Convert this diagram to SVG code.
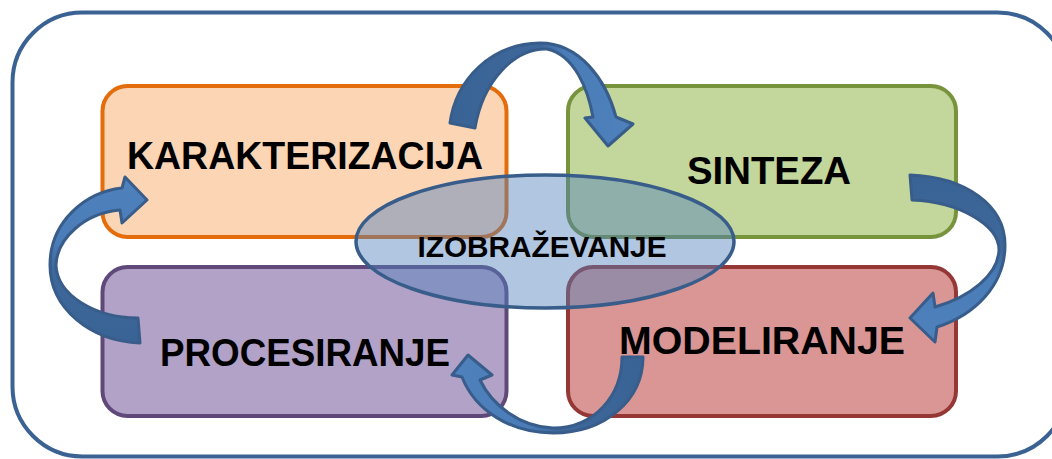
<svg xmlns="http://www.w3.org/2000/svg" width="1052" height="459" viewBox="0 0 1052 459">
<style>
.lbl{font-family:"Liberation Sans",Arial,sans-serif;font-weight:bold;fill:#000;text-anchor:middle}
.arrow{stroke:#385D8A;stroke-width:3;stroke-linejoin:round}
</style>
<defs>
<linearGradient id="gTop" gradientUnits="userSpaceOnUse" x1="450" y1="0" x2="640" y2="0">
<stop offset="0" stop-color="#3A6395"/><stop offset="0.48" stop-color="#3E689B"/><stop offset="0.6" stop-color="#4A7CB8"/><stop offset="1" stop-color="#4F81BD"/>
</linearGradient>
<linearGradient id="gRight" gradientUnits="userSpaceOnUse" x1="0" y1="175" x2="0" y2="345">
<stop offset="0" stop-color="#3A6395"/><stop offset="0.45" stop-color="#3E689B"/><stop offset="0.6" stop-color="#4A7CB8"/><stop offset="1" stop-color="#4F81BD"/>
</linearGradient>
<linearGradient id="gBottom" gradientUnits="userSpaceOnUse" x1="645" y1="0" x2="450" y2="0">
<stop offset="0" stop-color="#3A6395"/><stop offset="0.45" stop-color="#3E689B"/><stop offset="0.6" stop-color="#4A7CB8"/><stop offset="1" stop-color="#4F81BD"/>
</linearGradient>
<linearGradient id="gLeft" gradientUnits="userSpaceOnUse" x1="0" y1="345" x2="0" y2="175">
<stop offset="0" stop-color="#3A6395"/><stop offset="0.45" stop-color="#3E689B"/><stop offset="0.6" stop-color="#4A7CB8"/><stop offset="1" stop-color="#4F81BD"/>
</linearGradient>
</defs>
<rect width="1052" height="459" fill="#FFFFFF"/>
<g id="frame">
<rect x="12.5" y="12.5" width="1055" height="444" rx="70" ry="70" fill="none" stroke="#3A6293" stroke-width="4"/>
</g>
<g id="karakterizacija">
<rect x="102.5" y="86" width="404" height="151" rx="25" ry="25" fill="#FCD5B5" stroke="#E46C0A" stroke-width="4"/>
<text class="lbl" x="305" y="169" font-size="39" textLength="356" lengthAdjust="spacingAndGlyphs">KARAKTERIZACIJA</text>
</g>
<g id="sinteza">
<rect x="568" y="86" width="388" height="151" rx="25" ry="25" fill="#C3D69B" stroke="#77933C" stroke-width="4"/>
<text class="lbl" x="769" y="184" font-size="39" textLength="164" lengthAdjust="spacingAndGlyphs">SINTEZA</text>
</g>
<g id="procesiranje">
<rect x="102.5" y="267" width="404" height="149" rx="25" ry="25" fill="#B2A2C7" stroke="#5F497A" stroke-width="4"/>
<text class="lbl" x="305" y="366" font-size="39" textLength="290" lengthAdjust="spacingAndGlyphs">PROCESIRANJE</text>
</g>
<g id="modeliranje">
<rect x="568" y="267" width="388" height="149" rx="25" ry="25" fill="#D99694" stroke="#953735" stroke-width="4"/>
<text class="lbl" x="762" y="354" font-size="39" textLength="286" lengthAdjust="spacingAndGlyphs">MODELIRANJE</text>
</g>
<g id="izobrazevanje">
<ellipse cx="545" cy="241.5" rx="189" ry="66.5" fill="#4F81BD" fill-opacity="0.45" stroke="#385D8A" stroke-width="3.5"/>
<text class="lbl" x="542" y="257" font-size="29" textLength="249" lengthAdjust="spacingAndGlyphs">IZOBRAŽEVANJE</text>
</g>
<g id="connectors">
<path class="arrow" fill="url(#gTop)" d="M 450,123 C 456,80 490,44 540,43 C 580,43 606,80 616,117 L 633,124 L 608,146 L 585,118 L 593,117 C 588,90 575,55 547,49 C 515,48 483,80 475,128 Z"/>
<path class="arrow" fill="url(#gRight)" d="M 910,175 C 965,177 1005,205 1005,245 C 1005,285 975,315 937,327 L 935,342 L 910,318 L 933,293 L 935,307 C 970,297 998,275 999,250 C 999,225 960,202 912,200 Z"/>
<path class="arrow" fill="url(#gBottom)" d="M 643,357 C 643,400 605,433 553,433 C 510,433 475,410 462,377 L 452,375 L 468,355 L 492,375 L 480,380 C 492,405 520,427 553,428 C 595,428 622,395 622,357 Z"/>
<path class="arrow" fill="url(#gLeft)" d="M 140,343 C 90,341 50,308 50,265 C 50,222 85,192 122,188 L 125,177 L 147,200 L 122,223 L 120,210 C 85,213 57,238 56,265 C 57,295 95,318 138,318 Z"/>
</g>
</svg>
